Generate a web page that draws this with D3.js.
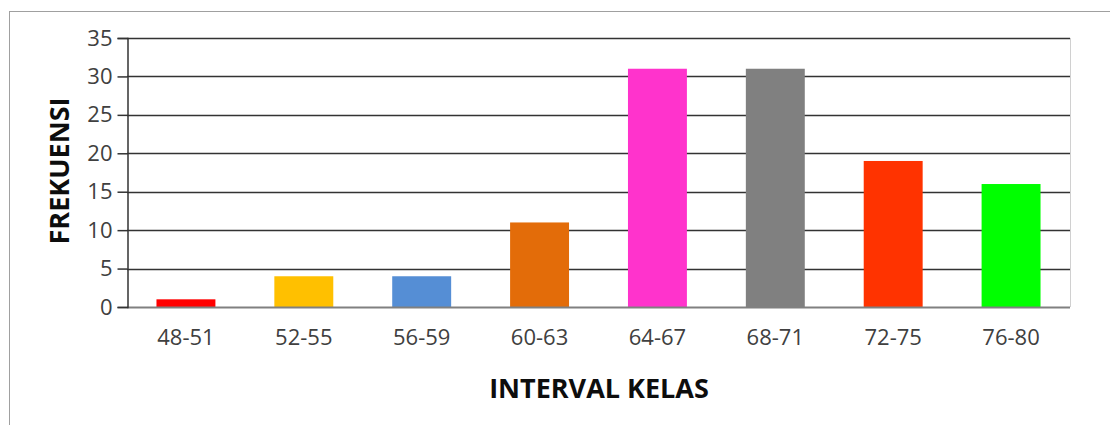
<!DOCTYPE html>
<html>
<head>
<meta charset="utf-8">
<script src="https://cdn.jsdelivr.net/npm/d3@7"></script>
<style>
  body { margin: 0; background: #fff; }
  svg { display: block; }
  text { font-family: "Open Sans", sans-serif; }
</style>
</head>
<body>
<svg id="chart" width="1110" height="425"></svg>
<script>
// Frequency distribution by class interval
const categories = ["48-51", "52-55", "56-59", "60-63", "64-67", "68-71", "72-75", "76-80"];
const frequencies = [1, 4, 4, 11, 31, 31, 19, 16];
const barColors = ["#FF0000", "#FFC000", "#558ED5", "#E36C09", "#FF33CC", "#808080", "#FF3300", "#00FF00"];
const yTicks = [0, 5, 10, 15, 20, 25, 30, 35];

const svg = d3.select("#chart");
const plot = { left: 127, right: 1070, top: 38, bottom: 307 };

// outer chart frame
svg.append("rect")
  .attr("x", 9.5).attr("y", 11.5)
  .attr("width", 1110).attr("height", 425)
  .attr("fill", "none").attr("stroke", "#a0a0a0").attr("stroke-width", 1);

const x = d3.scaleBand().domain(categories).range([plot.left, plot.right]).paddingInner(0.5).paddingOuter(0.25);
const y = d3.scaleLinear().domain([0, 35]).range([plot.bottom, plot.top]);

// right edge of plot area
svg.append("line")
  .attr("x1", plot.right + 0.5).attr("x2", plot.right + 0.5)
  .attr("y1", plot.top).attr("y2", plot.bottom)
  .attr("stroke", "#d0d0d0");

// gridlines
svg.append("g").selectAll("line").data(yTicks.filter(d => d > 0)).join("line")
  .attr("x1", plot.left).attr("x2", plot.right)
  .attr("y1", d => Math.round(y(d)) + 0.5).attr("y2", d => Math.round(y(d)) + 0.5)
  .attr("stroke", "#333").attr("stroke-width", 1.5);

// bars
svg.append("g").selectAll("rect").data(frequencies).join("rect")
  .attr("x", (d, i) => x(categories[i]))
  .attr("width", x.bandwidth())
  .attr("y", d => y(d))
  .attr("height", d => y(0) - y(d))
  .attr("fill", (d, i) => barColors[i]);

// x axis baseline
svg.append("line")
  .attr("x1", plot.left).attr("x2", plot.right)
  .attr("y1", plot.bottom + 0.5).attr("y2", plot.bottom + 0.5)
  .attr("stroke", "#808080").attr("stroke-width", 2);

// y axis
const yAxis = svg.append("g")
  .attr("transform", `translate(${plot.left + 0.5},0)`)
  .call(d3.axisLeft(y).tickValues(yTicks).tickSize(10).tickPadding(5));
yAxis.select(".domain").attr("stroke", "#333").attr("stroke-width", 1.5);
yAxis.selectAll(".tick line").attr("stroke", "#333").attr("stroke-width", 1.5);
yAxis.selectAll(".tick text").attr("font-size", 22)
  .style("fill", "#404040").style("font-family", '"Open Sans", sans-serif');

// x axis labels
const xAxis = svg.append("g")
  .attr("transform", `translate(0,${plot.bottom})`)
  .call(d3.axisBottom(x).tickSize(0).tickPadding(22));
xAxis.select(".domain").remove();
xAxis.selectAll(".tick text").attr("font-size", 22)
  .style("fill", "#404040").style("font-family", '"Open Sans", sans-serif');

// axis titles
svg.append("text")
  .attr("x", 599).attr("y", 398)
  .attr("text-anchor", "middle")
  .attr("font-size", 27).attr("font-weight", "bold").style("fill", "#0d0d0d")
  .text("INTERVAL KELAS");

svg.append("text")
  .attr("transform", "translate(69,171) rotate(-90)")
  .attr("text-anchor", "middle")
  .attr("font-size", 27).attr("font-weight", "bold").style("fill", "#0d0d0d")
  .text("FREKUENSI");
</script>
</body>
</html>
